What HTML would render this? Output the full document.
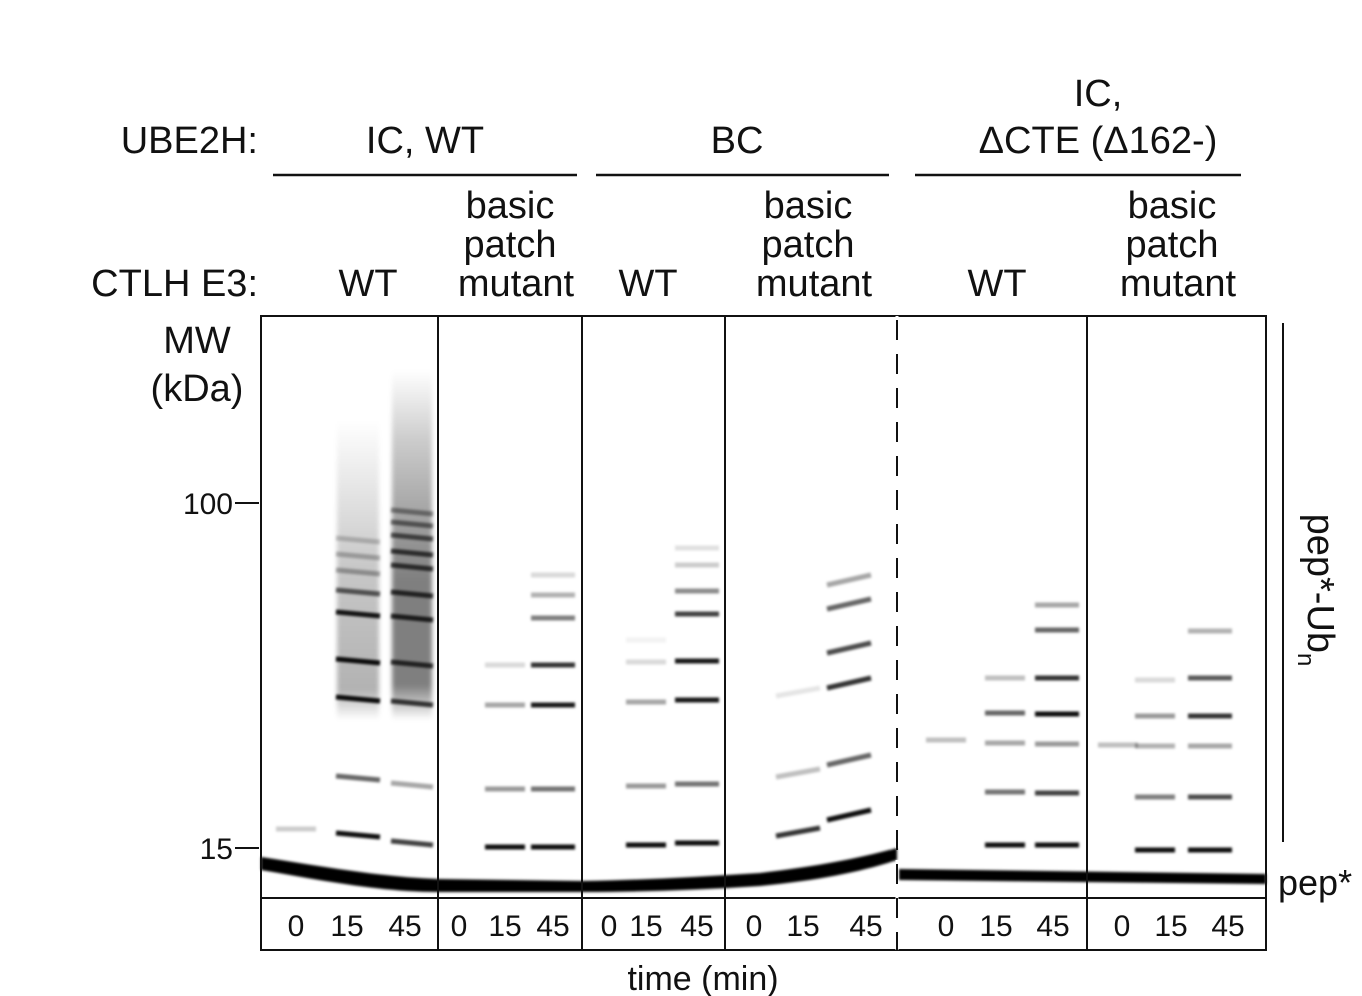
<!DOCTYPE html>
<html><head><meta charset="utf-8"><style>
body{margin:0;background:#fff;width:1362px;height:996px;overflow:hidden;font-family:"Liberation Sans",sans-serif}
svg{position:absolute;left:0;top:0}
</style></head><body>
<svg id="fig" width="1362" height="996" viewBox="0 0 1362 996">
<defs>
<filter id="blur" filterUnits="userSpaceOnUse" x="0" y="0" width="1362" height="996"><feGaussianBlur stdDeviation="1.2"/></filter>
<filter id="blur2" filterUnits="userSpaceOnUse" x="0" y="0" width="1362" height="996"><feGaussianBlur stdDeviation="2.5"/></filter>
<linearGradient id="smear1" x1="0" y1="1" x2="0" y2="0"><stop offset="0" stop-color="#000" stop-opacity="0"/><stop offset="0.1" stop-color="#000" stop-opacity="0.3"/><stop offset="0.5" stop-color="#000" stop-opacity="0.22"/><stop offset="1" stop-color="#000" stop-opacity="0"/></linearGradient>
<linearGradient id="smear2" x1="0" y1="1" x2="0" y2="0"><stop offset="0" stop-color="#000" stop-opacity="0"/><stop offset="0.1" stop-color="#000" stop-opacity="0.5"/><stop offset="0.4" stop-color="#000" stop-opacity="0.5"/><stop offset="0.8" stop-color="#000" stop-opacity="0.2"/><stop offset="1" stop-color="#000" stop-opacity="0"/></linearGradient>
</defs>
<g font-size="38" fill="#111">
<text x="258" y="153" text-anchor="end">UBE2H:</text>
<text x="425" y="153" text-anchor="middle">IC, WT</text>
<text x="737" y="153" text-anchor="middle">BC</text>
<text x="1098" y="106" text-anchor="middle">IC,</text>
<text x="1098" y="153" text-anchor="middle">ΔCTE (Δ162-)</text>
<line x1="273" y1="175" x2="577" y2="175" stroke="#111" stroke-width="2.5"/>
<line x1="596" y1="175" x2="889" y2="175" stroke="#111" stroke-width="2.5"/>
<line x1="915" y1="175" x2="1241" y2="175" stroke="#111" stroke-width="2.5"/>
<text x="258" y="296" text-anchor="end">CTLH E3:</text>
<text x="368" y="296" text-anchor="middle">WT</text>
<text x="648" y="296" text-anchor="middle">WT</text>
<text x="997" y="296" text-anchor="middle">WT</text>
<g text-anchor="middle">
<text x="510" y="218">basic</text><text x="510" y="257">patch</text><text x="516" y="296">mutant</text>
<text x="808" y="218">basic</text><text x="808" y="257">patch</text><text x="814" y="296">mutant</text>
<text x="1172" y="218">basic</text><text x="1172" y="257">patch</text><text x="1178" y="296">mutant</text>
</g>
<text x="197" y="353" text-anchor="middle">MW</text>
<text x="197" y="401" text-anchor="middle">(kDa)</text>
</g>
<g font-size="30" fill="#111">
<text x="233" y="514" text-anchor="end">100</text><line x1="235" y1="503" x2="259" y2="503" stroke="#111" stroke-width="2"/>
<text x="233" y="859" text-anchor="end">15</text><line x1="235" y1="848" x2="259" y2="848" stroke="#111" stroke-width="2"/>
</g>
<g id="gel"></g>
<g stroke="#111" fill="none" stroke-width="2">
<rect x="261" y="316" width="1005" height="634"/>
<line x1="261" y1="898" x2="1266" y2="898"/>
<line x1="438" y1="316" x2="438" y2="950"/>
<line x1="582" y1="316" x2="582" y2="950"/>
<line x1="725" y1="316" x2="725" y2="950"/>
<line x1="897" y1="316" x2="897" y2="950" stroke-dasharray="22,12" stroke="#fff" stroke-width="3"/>
<line x1="897" y1="320" x2="897" y2="950" stroke-dasharray="20,14"/>
<line x1="1087" y1="316" x2="1087" y2="950"/>
</g>
<g font-size="30" fill="#111" text-anchor="middle" id="timeLabels"></g>
<text x="703" y="990" font-size="34" fill="#111" text-anchor="middle">time (min)</text>
<line x1="1283" y1="323" x2="1283" y2="842" stroke="#111" stroke-width="2"/>
<text transform="translate(1308,590) rotate(90)" font-size="38" fill="#111" text-anchor="middle">pep*-Ub<tspan font-size="24" dy="10">n</tspan></text>
<text x="1278" y="895" font-size="36" fill="#111">pep*</text>
</svg>
<script>
const timePoints = ["0","15","45","0","15","45","0","15","45","0","15","45","0","15","45","0","15","45"];
// per-lane band migration (px on gel) and intensity
const bandPos = [
 [829],
 [835,778,699,661,614,592,572,556,540],
 [843,785,703,664,618,594,567,553,537,524,512],
 [],
 [847,789,705,665],
 [847,789,705,665,618,595,575],
 [],
 [845,786,702,662,640],
 [843,784,700,661,614,591,565,548],
 [],
 [832,773,692],
 [815,760,683,648,604,580],
 [740],
 [845,792,743,713,678],
 [845,793,744,714,678,630,605],
 [745],
 [850,797,746,716,680],
 [850,797,746,716,678,631]
];
const bandInt = [
 [0.2],
 [0.95,0.6,0.95,0.95,0.9,0.6,0.3,0.25,0.2],
 [0.75,0.35,0.75,0.75,0.8,0.75,0.7,0.7,0.6,0.5,0.4],
 [],
 [0.95,0.4,0.35,0.15],
 [0.95,0.55,0.9,0.8,0.5,0.3,0.15],
 [],
 [0.95,0.4,0.35,0.15,0.05],
 [0.95,0.55,0.9,0.9,0.75,0.45,0.2,0.12],
 [],
 [0.8,0.25,0.1],
 [0.95,0.6,0.8,0.7,0.6,0.35],
 [0.25],
 [0.95,0.55,0.35,0.6,0.25],
 [0.95,0.75,0.4,0.95,0.8,0.6,0.35],
 [0.25],
 [0.95,0.5,0.3,0.4,0.15],
 [0.95,0.7,0.35,0.8,0.65,0.3]
];
const laneCenters=[296,358,412,468,505,553,609,646,697,754,798,849,946,1005,1057,1118,1155,1210];
const laneWidths=[40,44,42,40,40,44,40,40,44,40,44,44,40,40,44,40,40,44];
const labelX=[296,347,405,459,505,553,609,646,697,754,803,866,946,996,1053,1122,1171,1228];
const NS="http://www.w3.org/2000/svg";
const gel=document.getElementById('gel');
function smear(x,w,y1,y2,g){const r=document.createElementNS(NS,'rect');r.setAttribute('x',x-w/2);r.setAttribute('y',y1);r.setAttribute('width',w);r.setAttribute('height',y2-y1);r.setAttribute('fill','url(#'+g+')');r.setAttribute('filter','url(#blur2)');


gel.appendChild(r);}
smear(laneCenters[1],42,420,720,'smear1');
smear(laneCenters[2],40,370,720,'smear2');
const slant=[0,4,4,0,0,0,0,0,0,0,-8,-10,0,0,0,0,0,0];
bandPos.forEach((arr,i)=>{arr.forEach((y,j)=>{
 const l=document.createElementNS(NS,'line');
 const x=laneCenters[i],w=laneWidths[i];
 l.setAttribute('x1',x-w/2);l.setAttribute('x2',x+w/2);
 l.setAttribute('y1',y-slant[i]/2);l.setAttribute('y2',y+slant[i]/2);
 l.setAttribute('stroke','#000');l.setAttribute('stroke-opacity',bandInt[i][j]);
 l.setAttribute('stroke-width',5);l.setAttribute('filter','url(#blur)');
 
 
 gel.appendChild(l);
});});
const p=document.createElementNS(NS,'path');
p.setAttribute('d','M261,857 C320,866 380,877 438,879 L582,881 C640,880 700,877 760,873 C820,866 860,858 897,848 L897,860 C860,872 820,880 760,886 C700,890 640,892 582,892 L438,892 C380,892 320,880 261,870 Z M899,869 L1266,874 L1266,884 L899,880 Z');
p.setAttribute('fill','#000');
p.setAttribute('filter','url(#blur)');


gel.appendChild(p);
const tl=document.getElementById('timeLabels');
timePoints.forEach((t,i)=>{const e=document.createElementNS(NS,'text');e.setAttribute('x',labelX[i]);e.setAttribute('y',936);e.textContent=t;


tl.appendChild(e);});
</script>
</body></html>
